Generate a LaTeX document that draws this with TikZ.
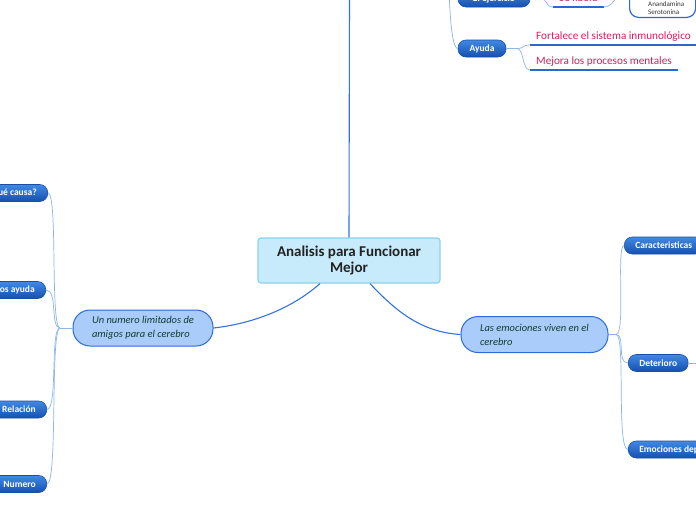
\documentclass[tikz,border=0pt]{standalone}
\usepackage{fontspec}
\setmainfont{Carlito}
\definecolor{cfill}{HTML}{C7EBFB}
\definecolor{cborder}{HTML}{8FD0EE}
\definecolor{ctext}{HTML}{222222}
\definecolor{sfill}{HTML}{A9CCFA}
\definecolor{sborder}{HTML}{2B6CD9}
\definecolor{stext}{HTML}{0F3F2E}
\definecolor{ktop}{HTML}{4189E3}
\definecolor{kbot}{HTML}{1550B0}
\definecolor{kborder}{HTML}{1B4FA6}
\definecolor{pinktext}{HTML}{D81E5B}
\definecolor{ulblue}{HTML}{2A68D6}
\definecolor{mlink}{HTML}{3473DD}
\definecolor{klink}{HTML}{8DB5EE}
\definecolor{darktext}{HTML}{333333}
\begin{document}
\begin{tikzpicture}[x=1pt,y=-1pt,
  central/.style={draw=cborder, fill=cfill, line width=1.2pt, rounded corners=3pt, minimum width=182pt, minimum height=45pt, align=center, font=\fontsize{15}{16.5}\selectfont\bfseries, text=ctext, inner sep=0pt},
  sub/.style={draw=sborder, fill=sfill, line width=1pt, rounded corners=17pt, minimum height=36pt, align=left, font=\fontsize{10.5}{14}\selectfont\itshape, text=stext, inner sep=0pt},
  kid/.style={draw=kborder, top color=ktop, bottom color=kbot, line width=0.6pt, rounded corners=8pt, minimum height=17pt, inner xsep=11pt, inner ysep=0pt, text=white, font=\fontsize{9.5}{11}\selectfont\bfseries},
  pink/.style={text=pinktext, font=\fontsize{11.2}{13}\selectfont, inner xsep=6pt, inner ysep=2.5pt, text height=8pt, text depth=2.5pt},
  ul/.style={draw=ulblue, line width=1.2pt},
  mainlink/.style={draw=mlink, line width=1.1pt},
  kidlink/.style={draw=klink, line width=0.7pt},
  small/.style={font=\fontsize{7}{8}\selectfont, text=darktext, inner sep=0pt}
]
\useasboundingbox (0,0) rectangle (696,520);
\clip (0,0) rectangle (696,520);
\fill[white] (0,0) rectangle (696,520);

% central
\node[central] (c) at (349,260.5) {Analisis para Funcionar\\Mejor};
\coordinate (ctop) at (349.5,-5);
\draw[mainlink] (c.north) -- (ctop);

% subtopics
\node[sub, minimum width=140pt] (ls) at (143,328) {Un numero limitados de\\amigos para el cerebro};
\node[sub, minimum width=147pt] (rs) at (534.5,334.5) {Las emociones viven en el\\cerebro};
\draw[mainlink] (c.south) ++(-29,0) coordinate (cl) .. controls (290,310) and (250,324) .. (ls.east);
\draw[mainlink] (c.south) ++(21,0) coordinate (cr) .. controls (395,310) and (420,332) .. (rs.west);

% left children
\node[kid, anchor=east] (l1) at (48,193) {¿Qué causa?};
\node[kid, anchor=east] (l2) at (46,290) {Nos ayuda};
\node[kid, anchor=east] (l3) at (47,409.5) {Relación};
\node[kid, anchor=east] (l4) at (47,484) {Numero};
\coordinate (jl) at (60,328);
\draw[kidlink] (ls.west) -- (jl);
\foreach \n in {l1,l2,l3,l4}{
  \draw[kidlink] (jl) .. controls (50,328) and (58,0 |- \n.east) .. (\n.east);
}

% right children
\node[kid, anchor=west] (r1) at (624,245.5) {Caracteristicas};
\node[kid, anchor=west] (r2) at (628,363) {Deterioro};
\node[kid, anchor=west] (r3) at (628,449.5) {Emociones depresivas};
\coordinate (jr) at (616,334.5);
\coordinate (r2x) at (700,363);
\draw[kidlink] (rs.east) -- (jr);
\foreach \n in {r1,r2,r3}{
  \draw[kidlink] (jr) .. controls (626,334.5) and (616,0 |- \n.west) .. (\n.west);
}
\draw[kidlink] (r2.east) -- (r2x);

% top branch
\node[kid, minimum width=72pt] (ej) at (494,-1.5) {El ejercicio};
\node[kid, minimum width=48pt] (ay) at (482,48.5) {Ayuda};
\coordinate (jt) at (448,-40);
\draw[kidlink] (jt) .. controls (449,-25) and (449,48.5) .. (ay.west);
\draw[kidlink] (jt) .. controls (449,-25) and (450,-1.5) .. (ej.west);

\node[pink, anchor=south west] (fo) at (530,45) {Fortalece el sistema inmunológico};
\node[pink, anchor=south west] (me) at (530,70) {Mejora los procesos mentales};
\draw[ul] (fo.south west) -- (fo.south east);
\draw[ul] (me.south west) -- (me.south east);
\coordinate (ja) at (517,48.5);
\draw[kidlink] (ay.east) -- (ja);
\draw[kidlink] (ja) .. controls (524,48.5) and (522,45) .. (fo.south west);
\draw[kidlink] (ja) .. controls (524,48.5) and (522,70) .. (me.south west);

\node[pink, anchor=south west] (li) at (553,7) {Se libera};
\draw[ul] (li.south west) -- (li.south east);
\coordinate (je) at (540,-1.5);
\draw[kidlink] (ej.east) -- (je) .. controls (548,-1.5) and (545,7) .. (li.south west);

\node[draw=ulblue, line width=1.2pt, rounded corners=9pt, minimum width=66pt, minimum height=60pt, anchor=south west] (bx) at (629,18) {};
\node[small, anchor=base west] (t1) at (648,6) {Anandamina};
\node[small, anchor=base west] (t2) at (648,14) {Serotonina};
\draw[kidlink] (li.south east) .. controls (615,7) and (618,-12) .. (bx.west);
\end{tikzpicture}
\end{document}
